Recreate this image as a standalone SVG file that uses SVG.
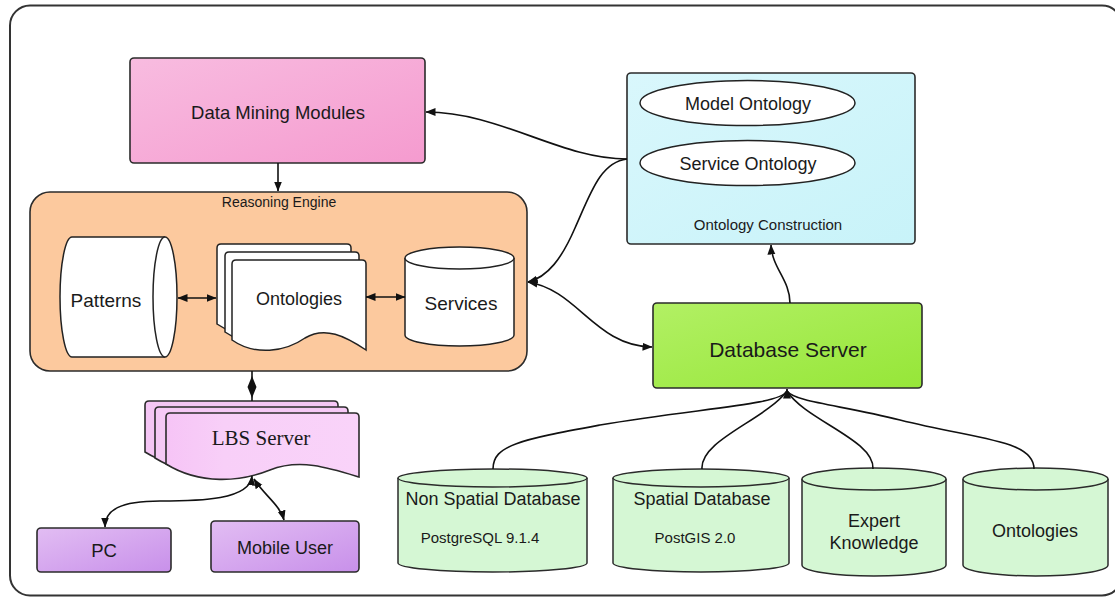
<svg xmlns="http://www.w3.org/2000/svg" xmlns:xlink="http://www.w3.org/1999/xlink" width="1115" height="598" viewBox="0 0 1115 598">
  <style>
    .lbl { font-family: "Liberation Sans", Arial, sans-serif; fill: #1a1a1a; text-anchor: middle; }
    .serif { font-family: "Liberation Serif", "Times New Roman", serif; fill: #1a1a1a; text-anchor: middle; }
    .edge { fill: none; stroke: #111; stroke-width: 1.6; }
    .box { stroke: #2b2b2b; stroke-width: 1.6; }
    .white { fill: #ffffff; stroke: #222; stroke-width: 1.5; }
    .db { fill: #d5f7d4; stroke: #2b2b2b; stroke-width: 1.5; }
  </style>
  <defs>
    <linearGradient id="gPink" x1="0" y1="0" x2="1" y2="1">
      <stop offset="0" stop-color="#f8bce0"/>
      <stop offset="1" stop-color="#f59bcf"/>
    </linearGradient>
    <linearGradient id="gCyan" x1="0" y1="0" x2="1" y2="1">
      <stop offset="0" stop-color="#d9f7fc"/>
      <stop offset="1" stop-color="#c8f3f9"/>
    </linearGradient>
    <linearGradient id="gGreen" x1="0" y1="0" x2="1" y2="1">
      <stop offset="0" stop-color="#b2f064"/>
      <stop offset="1" stop-color="#96e638"/>
    </linearGradient>
    <linearGradient id="gPurple" x1="0" y1="0" x2="1" y2="1">
      <stop offset="0" stop-color="#e2bdf3"/>
      <stop offset="1" stop-color="#c890ea"/>
    </linearGradient>
    <linearGradient id="gLbs" x1="0" y1="0" x2="1" y2="0">
      <stop offset="0" stop-color="#f6c4f6"/>
      <stop offset="0.3" stop-color="#f8cff8"/>
      <stop offset="1" stop-color="#f9d3f9"/>
    </linearGradient>
    <marker id="arrL" viewBox="0 0 10 10" refX="9.5" refY="5" markerWidth="10" markerHeight="10" orient="auto-start-reverse" markerUnits="userSpaceOnUse">
      <path d="M0,1 L10,5 L0,9 z" fill="#111"/>
    </marker>
    <!-- single page of a document stack, bottom edge wavy -->
    <path id="docOnt" d="M0,4 Q0,0 4,0 L130,0 Q134,0 134,4 L134,90 C113,76 93,66 73,78 C53,92 23,96 0,80 Z"/>
    <path id="docLbs" d="M0,4 Q0,0 4,0 L189,0 Q193,0 193,4 L193,64 C164,55 134,45 104,57 C74,69 34,72 0,51 Z"/>
  </defs>

  <!-- outer frame -->
  <rect x="10" y="5.5" width="1112" height="590" rx="20" fill="#ffffff" stroke="#333" stroke-width="2"/>

  <g id="data-mining">
    <rect class="box" x="130" y="58" width="295" height="105" rx="4" fill="url(#gPink)"/>
    <text class="lbl" x="278" y="119" font-size="18.5">Data Mining Modules</text>
  </g>

  <g id="reasoning-engine">
    <rect class="box" x="30" y="192" width="497" height="179" rx="20" fill="#fcc99e"/>
    <text class="lbl" x="279" y="207" font-size="14">Reasoning Engine</text>
  </g>

  <g id="patterns">
    <path class="white" d="M72,237 L165,237 A12,60 0 0 1 165,357 L72,357 A12,60 0 0 1 72,237 Z"/>
    <path class="white" fill="none" d="M165,237 A12,60 0 0 0 165,357"/>
    <text class="lbl" x="106" y="307" font-size="19">Patterns</text>
  </g>

  <g id="ontologies-stack">
    <use xlink:href="#docOnt" class="white" transform="translate(217,244)"/>
    <use xlink:href="#docOnt" class="white" transform="translate(225,252)"/>
    <use xlink:href="#docOnt" class="white" transform="translate(232,260)"/>
    <text class="lbl" x="299" y="305" font-size="18">Ontologies</text>
  </g>

  <g id="services">
    <path class="white" d="M405,258 L405,335 A54.5,11 0 0 0 514,335 L514,258 A54.5,11 0 0 0 405,258 Z"/>
    <path class="white" fill="none" d="M405,258 A54.5,11 0 0 0 514,258"/>
    <text class="lbl" x="461" y="310" font-size="19">Services</text>
  </g>

  <g id="lbs-server">
    <use xlink:href="#docLbs" class="box" fill="#f5c6f5" transform="translate(145,401)"/>
    <use xlink:href="#docLbs" class="box" fill="#f6c9f6" transform="translate(155,407)"/>
    <use xlink:href="#docLbs" class="box" fill="url(#gLbs)" transform="translate(166,413)"/>
    <text class="serif" x="261" y="445" font-size="21">LBS Server</text>
  </g>

  <g id="pc">
    <rect class="box" x="37" y="528" width="134" height="44" rx="4" fill="url(#gPurple)"/>
    <text class="lbl" x="104" y="557" font-size="18.5">PC</text>
  </g>

  <g id="mobile-user">
    <rect class="box" x="211" y="521" width="148" height="51" rx="4" fill="url(#gPurple)"/>
    <text class="lbl" x="285" y="554" font-size="18">Mobile User</text>
  </g>

  <g id="ontology-construction">
    <rect class="box" x="627" y="73" width="288" height="171" rx="4" fill="url(#gCyan)"/>
    <ellipse class="white" cx="747.5" cy="103" rx="107.5" ry="22.5"/>
    <text class="lbl" x="748" y="110" font-size="18">Model Ontology</text>
    <ellipse class="white" cx="747.5" cy="163" rx="107.5" ry="22.5"/>
    <text class="lbl" x="748" y="170" font-size="18">Service Ontology</text>
    <text class="lbl" x="768" y="230" font-size="15">Ontology Construction</text>
  </g>

  <g id="database-server">
    <rect class="box" x="653" y="303" width="269" height="85" rx="4" fill="url(#gGreen)"/>
    <text class="lbl" x="788" y="357" font-size="21">Database Server</text>
  </g>

  <g id="non-spatial-db">
    <path class="db" d="M398,478 L398,563 A94.5,9 0 0 0 587,563 L587,478 A94.5,9 0 0 0 398,478 Z"/>
    <path class="db" fill="none" d="M398,478 A94.5,9 0 0 0 587,478"/>
    <text class="lbl" x="493" y="505" font-size="18">Non Spatial Database</text>
    <text class="lbl" x="480" y="543" font-size="15">PostgreSQL 9.1.4</text>
  </g>

  <g id="spatial-db">
    <path class="db" d="M613,478 L613,563 A88,9 0 0 0 789,563 L789,478 A88,9 0 0 0 613,478 Z"/>
    <path class="db" fill="none" d="M613,478 A88,9 0 0 0 789,478"/>
    <text class="lbl" x="702" y="505" font-size="18">Spatial Database</text>
    <text class="lbl" x="695" y="543" font-size="15">PostGIS 2.0</text>
  </g>

  <g id="expert-knowledge">
    <path class="db" d="M802,479 L802,565 A72,11 0 0 0 946,565 L946,479 A72,11 0 0 0 802,479 Z"/>
    <path class="db" fill="none" d="M802,479 A72,11 0 0 0 946,479"/>
    <text class="lbl" x="874" y="527" font-size="18">Expert</text>
    <text class="lbl" x="874" y="549" font-size="18">Knowledge</text>
  </g>

  <g id="ontologies-db">
    <path class="db" d="M963,479 L963,565 A72.5,11 0 0 0 1108,565 L1108,479 A72.5,11 0 0 0 963,479 Z"/>
    <path class="db" fill="none" d="M963,479 A72.5,11 0 0 0 1108,479"/>
    <text class="lbl" x="1035" y="537" font-size="18">Ontologies</text>
  </g>

  <g id="connectors">
    <path class="edge" d="M278,163 L278,191" marker-end="url(#arrL)"/>
    <path class="edge" d="M627,159 C560,159 500,112 426,112" marker-end="url(#arrL)"/>
    <path class="edge" d="M627,159 C600,162 590,195 575,228 C562,258 548,277 528,282" marker-end="url(#arrL)"/>
    <path class="edge" d="M528,282 C578,290 595,346 652,347" marker-start="url(#arrL)" marker-end="url(#arrL)"/>
    <path class="edge" d="M790,303 C790,280 772,268 771,245" marker-end="url(#arrL)"/>
    <path class="edge" d="M178,298 L216,298" marker-start="url(#arrL)" marker-end="url(#arrL)"/>
    <path class="edge" d="M366,297 L405,297" marker-start="url(#arrL)" marker-end="url(#arrL)"/>
    <!-- two-way link between engine and LBS server: arrowheads meet as a diamond -->
    <path class="edge" d="M252,371 L252,401"/>
    <path d="M252,376 L256.5,387 L252,398 L247.5,387 Z" fill="#111"/>
    <path class="edge" d="M252,476 C250,500 200,501 160,501 C120,501 105,510 105,527" marker-start="url(#arrL)" marker-end="url(#arrL)"/>
    <path class="edge" d="M254,479 C264,495 280,505 284,520" marker-start="url(#arrL)" marker-end="url(#arrL)"/>
    <path class="edge" d="M493,469 C493,445 520,440 600,425 C700,408 780,405 787,391"/>
    <path class="edge" d="M702,469 C700,440 765,420 787,391"/>
    <path class="edge" d="M873,469 C875,440 805,420 787,391"/>
    <path class="edge" d="M1034,469 C1034,440 980,440 900,420 C840,405 795,402 787,391"/>
    <path class="edge" d="M787,398 L787,389" marker-end="url(#arrL)"/>
  </g>
</svg>
